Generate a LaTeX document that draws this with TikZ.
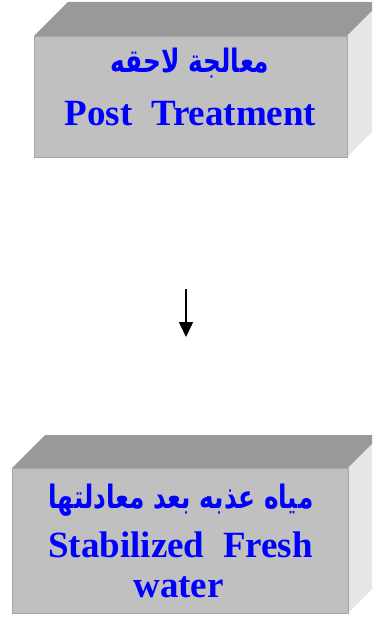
\documentclass[tikz,border=0pt]{standalone}
\usepackage{fontspec}
\setmainfont{Liberation Serif}
\newfontfamily\arabicfont[Script=Arabic]{DejaVu Sans}
\TeXXeTstate=1
\usetikzlibrary{arrows.meta}
\definecolor{frontgray}{HTML}{C0C0C0}
\definecolor{topgray}{HTML}{999999}
\definecolor{sidegray}{HTML}{E6E6E6}
\definecolor{txtblue}{HTML}{0000FF}
\newcommand{\artall}[1]{\scalebox{1}[1.3]{#1}}
\tikzset{
  front/.style={fill=frontgray, draw=gray!70, line width=0.6pt, inner sep=0pt},
  topface/.style={fill=topgray},
  sideface/.style={fill=sidegray},
  entxt/.style={text=txtblue, font=\fontsize{37}{40}\selectfont\bfseries, anchor=base, inner sep=0pt},
  artxt/.style={text=txtblue, font=\fontsize{24.8}{28}\selectfont\arabicfont\bfseries, anchor=base, inner sep=0pt},
}
\begin{document}
\begin{tikzpicture}[x=1pt,y=-1pt]
\useasboundingbox (0,0) rectangle (372,617);
\clip (0,0) rectangle (372,617);
% top box
\fill[topface] (34,36) -- (68,2) -- (381,2) -- (347,36) -- cycle;
\fill[sideface] (347,36) -- (381,2) -- (381,123) -- (347,157) -- cycle;
\node[front, minimum width=313pt, minimum height=121pt, anchor=north west] (post) at (34,36) {};
\node[artxt] (postar) at (190,73) {\artall{\beginR معالجة لاحقه\endR}};
\node[entxt] (posten) at (190.5,126) {Post\ \ Treatment};
% arrow
\coordinate (a1) at (186,289);
\coordinate (a2) at (186,337);
\draw[line width=1.6pt, -{Triangle[length=15pt,width=14pt]}] (a1) -- (a2);
% bottom box
\fill[topface] (12,468) -- (45,435) -- (381,435) -- (348,468) -- cycle;
\fill[sideface] (348,468) -- (381,435) -- (381,580) -- (348,613) -- cycle;
\node[front, minimum width=336pt, minimum height=145pt, anchor=north west] (fresh) at (12,468) {};
\node[artxt] (freshar) at (181,508) {\artall{\beginR مياه عذبه بعد معادلتها\endR}};
\node[entxt] (fresh1) at (180.5,557) {Stabilized\ \ Fresh};
\node[entxt] (fresh2) at (178.5,597) {water};
\end{tikzpicture}
\end{document}
